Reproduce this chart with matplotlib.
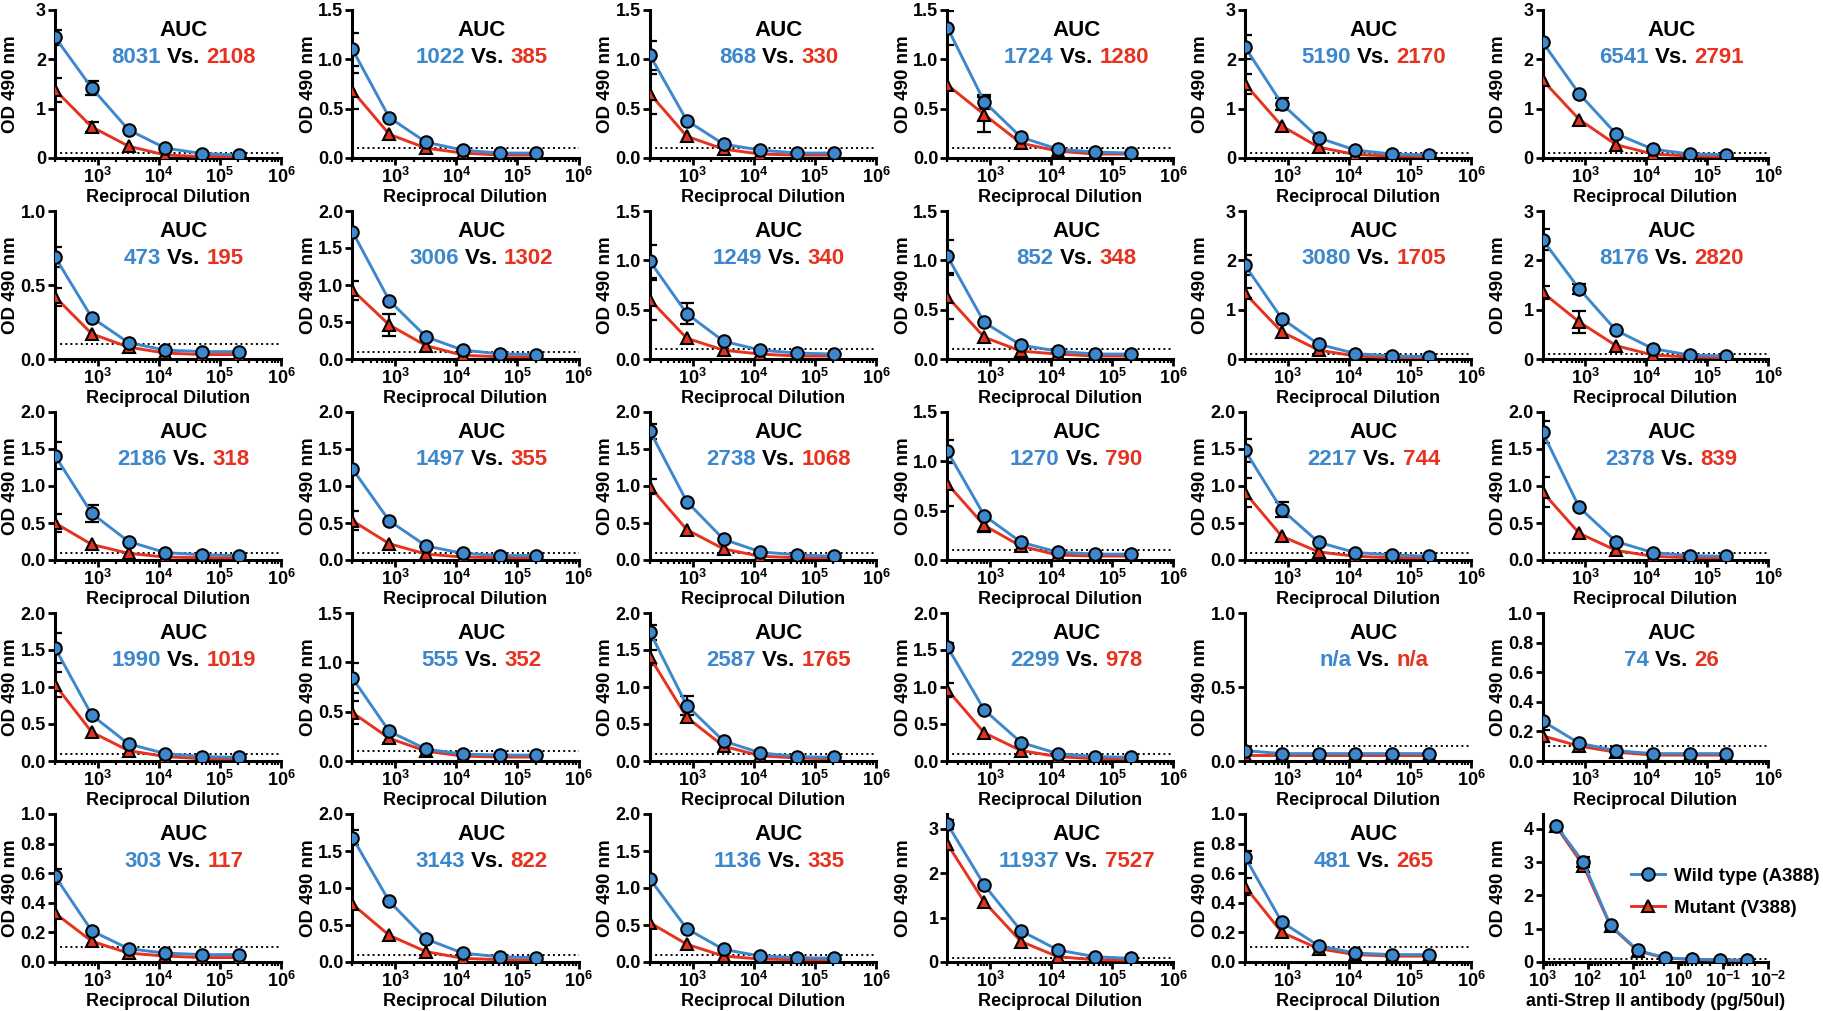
import matplotlib.pyplot as plt
from matplotlib.ticker import FixedLocator, LogLocator, NullFormatter

plt.rcParams['font.family'] = ['Liberation Sans', 'DejaVu Sans']
plt.rcParams['font.weight'] = 'bold'
plt.rcParams['mathtext.fontset'] = 'custom'
plt.rcParams['mathtext.rm'] = 'Liberation Sans:bold'
plt.rcParams['mathtext.it'] = 'Liberation Sans:bold'
plt.rcParams['mathtext.bf'] = 'Liberation Sans:bold'
plt.rcParams['mathtext.default'] = 'rm'

BLUE = '#3d87cc'
RED = '#e6321e'

# reciprocal serum dilutions (4-fold from 1:200)
dilution = [200, 800, 3200, 12800, 51200, 204800]

# y axis top and tick step for each of the 29 serum panels
y_top = [3, 1.5, 1.5, 1.5, 3, 3,
         1.0, 2.0, 1.5, 1.5, 3, 3,
         2.0, 2.0, 2.0, 1.5, 2.0, 2.0,
         2.0, 1.5, 2.0, 2.0, 1.0, 1.0,
         1.0, 2.0, 2.0, 3.33, 1.0]
y_step = [1, 0.5, 0.5, 0.5, 1, 1,
          0.5, 0.5, 0.5, 0.5, 1, 1,
          0.5, 0.5, 0.5, 0.5, 0.5, 0.5,
          0.5, 0.5, 0.5, 0.5, 0.5, 0.2,
          0.2, 0.5, 0.5, 1, 0.2]

auc_wt = ['8031', '1022', '868', '1724', '5190', '6541',
          '473', '3006', '1249', '852', '3080', '8176',
          '2186', '1497', '2738', '1270', '2217', '2378',
          '1990', '555', '2587', '2299', 'n/a', '74',
          '303', '3143', '1136', '11937', '481']
auc_mut = ['2108', '385', '330', '1280', '2170', '2791',
           '195', '1302', '340', '348', '1705', '2820',
           '318', '355', '1068', '790', '744', '839',
           '1019', '352', '1765', '978', 'n/a', '26',
           '117', '822', '335', '7527', '265']

# OD 490 nm, wild type (A388)
wt = [[2.45, 1.42, 0.57, 0.20, 0.09, 0.06],
      [1.10, 0.41, 0.16, 0.08, 0.05, 0.05],
      [1.04, 0.38, 0.14, 0.08, 0.05, 0.05],
      [1.32, 0.57, 0.21, 0.09, 0.06, 0.05],
      [2.25, 1.10, 0.41, 0.16, 0.08, 0.06],
      [2.35, 1.30, 0.49, 0.18, 0.08, 0.07],
      [0.69, 0.28, 0.11, 0.06, 0.05, 0.05],
      [1.72, 0.79, 0.30, 0.12, 0.07, 0.06],
      [0.99, 0.46, 0.18, 0.09, 0.06, 0.05],
      [1.04, 0.37, 0.14, 0.08, 0.05, 0.05],
      [1.90, 0.82, 0.30, 0.11, 0.06, 0.05],
      [2.42, 1.42, 0.58, 0.21, 0.08, 0.06],
      [1.41, 0.63, 0.25, 0.10, 0.07, 0.06],
      [1.23, 0.53, 0.19, 0.09, 0.06, 0.06],
      [1.74, 0.79, 0.28, 0.11, 0.07, 0.05],
      [1.10, 0.45, 0.18, 0.08, 0.06, 0.06],
      [1.48, 0.68, 0.24, 0.10, 0.07, 0.05],
      [1.73, 0.71, 0.25, 0.10, 0.06, 0.05],
      [1.53, 0.62, 0.23, 0.10, 0.06, 0.05],
      [0.84, 0.30, 0.12, 0.07, 0.06, 0.06],
      [1.74, 0.75, 0.27, 0.11, 0.06, 0.05],
      [1.54, 0.69, 0.25, 0.10, 0.06, 0.05],
      [0.07, 0.05, 0.05, 0.05, 0.05, 0.05],
      [0.27, 0.12, 0.07, 0.05, 0.05, 0.05],
      [0.58, 0.21, 0.09, 0.06, 0.05, 0.05],
      [1.68, 0.82, 0.31, 0.12, 0.07, 0.06],
      [1.12, 0.45, 0.17, 0.08, 0.06, 0.05],
      [3.10, 1.73, 0.70, 0.27, 0.12, 0.08],
      [0.71, 0.27, 0.11, 0.06, 0.05, 0.05]]

# OD 490 nm, mutant (V388)
mut = [[1.38, 0.63, 0.24, 0.06, 0.03, 0.03],
       [0.68, 0.24, 0.10, 0.05, 0.03, 0.03],
       [0.65, 0.22, 0.09, 0.04, 0.03, 0.03],
       [0.74, 0.44, 0.15, 0.07, 0.04, 0.04],
       [1.50, 0.65, 0.22, 0.07, 0.04, 0.03],
       [1.58, 0.78, 0.27, 0.08, 0.04, 0.03],
       [0.42, 0.17, 0.08, 0.04, 0.03, 0.03],
       [0.93, 0.46, 0.18, 0.05, 0.03, 0.03],
       [0.60, 0.21, 0.09, 0.05, 0.03, 0.03],
       [0.63, 0.22, 0.08, 0.05, 0.03, 0.03],
       [1.33, 0.55, 0.18, 0.06, 0.03, 0.03],
       [1.35, 0.75, 0.27, 0.08, 0.04, 0.03],
       [0.50, 0.21, 0.09, 0.04, 0.03, 0.03],
       [0.53, 0.22, 0.08, 0.04, 0.03, 0.03],
       [0.99, 0.41, 0.15, 0.05, 0.03, 0.03],
       [0.77, 0.35, 0.14, 0.05, 0.04, 0.04],
       [0.91, 0.32, 0.11, 0.05, 0.03, 0.03],
       [0.92, 0.36, 0.13, 0.05, 0.03, 0.03],
       [1.03, 0.39, 0.14, 0.06, 0.03, 0.03],
       [0.49, 0.23, 0.10, 0.05, 0.04, 0.04],
       [1.40, 0.59, 0.20, 0.07, 0.04, 0.03],
       [0.96, 0.38, 0.14, 0.06, 0.03, 0.03],
       [0.04, 0.04, 0.04, 0.04, 0.04, 0.04],
       [0.17, 0.10, 0.06, 0.04, 0.04, 0.04],
       [0.33, 0.14, 0.06, 0.04, 0.03, 0.03],
       [0.78, 0.36, 0.14, 0.05, 0.03, 0.03],
       [0.53, 0.24, 0.08, 0.04, 0.03, 0.03],
       [2.65, 1.35, 0.46, 0.12, 0.05, 0.04],
       [0.51, 0.20, 0.09, 0.05, 0.04, 0.04]]

# SEM (only the first two dilutions have visible bars)
wt_err = [[0.15, 0.15], [0.17, 0.0], [0.15, 0.0], [0.17, 0.07], [0.25, 0.12], [0.0, 0.0],
          [0.07, 0.0], [0.0, 0.0], [0.17, 0.11], [0.17, 0.0], [0.2, 0.0], [0.22, 0.1],
          [0.18, 0.12], [0.0, 0.0], [0.1, 0.0], [0.12, 0.0], [0.15, 0.1], [0.15, 0.0],
          [0.2, 0.0], [0.15, 0.0], [0.1, 0.13], [0.05, 0.0], [0.0, 0.0], [0.0, 0.0],
          [0.05, 0.0], [0.1, 0.0], [0.0, 0.0], [0.1, 0.0], [0.04, 0.0]]
mut_err = [[0.25, 0.1], [0.18, 0.0], [0.2, 0.0], [0.0, 0.18], [0.2, 0.0], [0.0, 0.0],
           [0.06, 0.0], [0.13, 0.15], [0.2, 0.0], [0.22, 0.0], [0.1, 0.0], [0.13, 0.22],
           [0.12, 0.0], [0.13, 0.0], [0.1, 0.0], [0.22, 0.07], [0.2, 0.0], [0.2, 0.0],
           [0.17, 0.0], [0.12, 0.05], [0.1, 0.0], [0.1, 0.0], [0.0, 0.0], [0.04, 0.0],
           [0.0, 0.0], [0.0, 0.0], [0.0, 0.0], [0.0, 0.0], [0.06, 0.0]]

# standard curve (last panel)
strep_amount = [500, 125, 31.25, 7.8, 1.95, 0.49, 0.12, 0.03]
strep_wt = [4.10, 3.00, 1.10, 0.35, 0.13, 0.08, 0.06, 0.05]
strep_mut = [4.08, 2.90, 1.08, 0.33, 0.12, 0.08, 0.06, 0.05]
strep_wt_err = [0.0, 0.15, 0, 0, 0, 0, 0, 0]
cutoff = 0.1


def draw_series(ax, x, y, err, color, marker, ms, label):
    xs = [x[i] for i in range(len(err)) if err[i] > 0]
    ys = [y[i] for i in range(len(err)) if err[i] > 0]
    es = [e for e in err if e > 0]
    if es:
        ax.errorbar(xs, ys, yerr=es, fmt='none', ecolor='black', elinewidth=1.6,
                    capsize=5, capthick=1.6, zorder=3)
    ax.plot(x, y, color=color, lw=2.1, marker=marker, ms=ms, mfc=color,
            mec='black', mew=1.5, zorder=4, label=label)


def style_axes(ax, ymax, step):
    for s in ['top', 'right']:
        ax.spines[s].set_visible(False)
    for s in ['left', 'bottom']:
        ax.spines[s].set_linewidth(2.2)
    ax.set_ylim(0, ymax)
    n = int(ymax / step + 1e-6) + 1
    ticks = [round(i * step, 2) for i in range(n)]
    ax.set_yticks(ticks)
    if step >= 1:
        ax.set_yticklabels([str(int(t)) for t in ticks])
    else:
        ax.set_yticklabels([f'{t:.1f}' for t in ticks])
    ax.tick_params(axis='both', which='major', width=2, length=5, labelsize=13, pad=1.5)
    ax.tick_params(axis='x', which='minor', width=1.6, length=3.2)
    ax.set_ylabel('OD 490 nm', fontsize=13.5, fontweight='bold')
    ax.yaxis.set_label_coords(-0.158, 0.5)


def auc_label(ax, a, b):
    ax.text(0.57, 0.86, 'AUC', transform=ax.transAxes, ha='center', va='center',
            fontsize=16, fontweight='bold')
    full = ax.text(0.57, 0.68, f'{a} Vs. {b}', transform=ax.transAxes, ha='center',
                   va='center', fontsize=16, fontweight='bold', alpha=0)
    t1 = ax.annotate(a, xy=(0, 0), xycoords=full, ha='left', va='bottom',
                     fontsize=16, fontweight='bold', color=BLUE)
    t2 = ax.annotate('Vs.', xy=(1, 0), xycoords=t1, xytext=(4.4, 0),
                     textcoords='offset points', ha='left', va='bottom',
                     fontsize=16, fontweight='bold', color='black')
    ax.annotate(b, xy=(1, 0), xycoords=t2, xytext=(4.4, 0),
                textcoords='offset points', ha='left', va='bottom',
                fontsize=16, fontweight='bold', color=RED)


fig = plt.figure(figsize=(18.24, 10.11), dpi=100)
W, H = 1824.0, 1011.0
ax_w, ax_h = 226 / W, 148 / H

for k in range(30):
    row, col = divmod(k, 6)
    left = (55 + col * 297.5) / W
    bottom = 1 - (158 + row * 201) / H
    ax = fig.add_axes([left, bottom, ax_w, ax_h])

    if k < 29:
        ax.set_xscale('log')
        ax.set_xlim(200, 1e6)
        ax.axhline(cutoff, color='black', ls=':', lw=1.4, zorder=2)
        draw_series(ax, dilution, mut[k], mut_err[k] + [0] * 4, RED, '^', 9, 'Mutant (V388)')
        draw_series(ax, dilution, wt[k], wt_err[k] + [0] * 4, BLUE, 'o', 9, 'Wild type (A388)')
        style_axes(ax, y_top[k], y_step[k])
        ax.xaxis.set_major_locator(FixedLocator([1e3, 1e4, 1e5, 1e6]))
        ax.set_xticklabels([r'$10^{3}$', r'$10^{4}$', r'$10^{5}$', r'$10^{6}$'])
        ax.xaxis.set_minor_locator(LogLocator(base=10, subs=range(2, 10), numticks=20))
        ax.xaxis.set_minor_formatter(NullFormatter())
        ax.set_xlabel('Reciprocal Dilution', fontsize=13, fontweight='bold', labelpad=1)
        auc_label(ax, auc_wt[k], auc_mut[k])
    else:
        ax.set_xscale('log')
        ax.set_xlim(1e3, 1e-2)
        ax.axhline(cutoff, color='black', ls=':', lw=1.4, zorder=2)
        draw_series(ax, strep_amount, strep_mut, [0] * 8, RED, '^', 9, 'Mutant (V388)')
        draw_series(ax, strep_amount, strep_wt, strep_wt_err, BLUE, 'o', 9, 'Wild type (A388)')
        style_axes(ax, 4.45, 1)
        ax.xaxis.set_major_locator(FixedLocator([1e3, 1e2, 1e1, 1e0, 1e-1, 1e-2]))
        ax.set_xticklabels([r'$10^{3}$', r'$10^{2}$', r'$10^{1}$', r'$10^{0}$',
                            r'$10^{-1}$', r'$10^{-2}$'])
        ax.xaxis.set_minor_locator(LogLocator(base=10, subs=range(2, 10), numticks=20))
        ax.xaxis.set_minor_formatter(NullFormatter())
        ax.set_xlabel('anti-Strep II antibody (pg/50ul)', fontsize=13,
                      fontweight='bold', labelpad=1)
        h, l = ax.get_legend_handles_labels()
        ax.legend(h[::-1], l[::-1], loc='upper left', bbox_to_anchor=(0.36, 0.69),
                  frameon=False, fontsize=13.5, handlelength=1.8, labelspacing=0.8,
                  handletextpad=0.5, borderaxespad=0)

fig.savefig('out.png', dpi=100)
